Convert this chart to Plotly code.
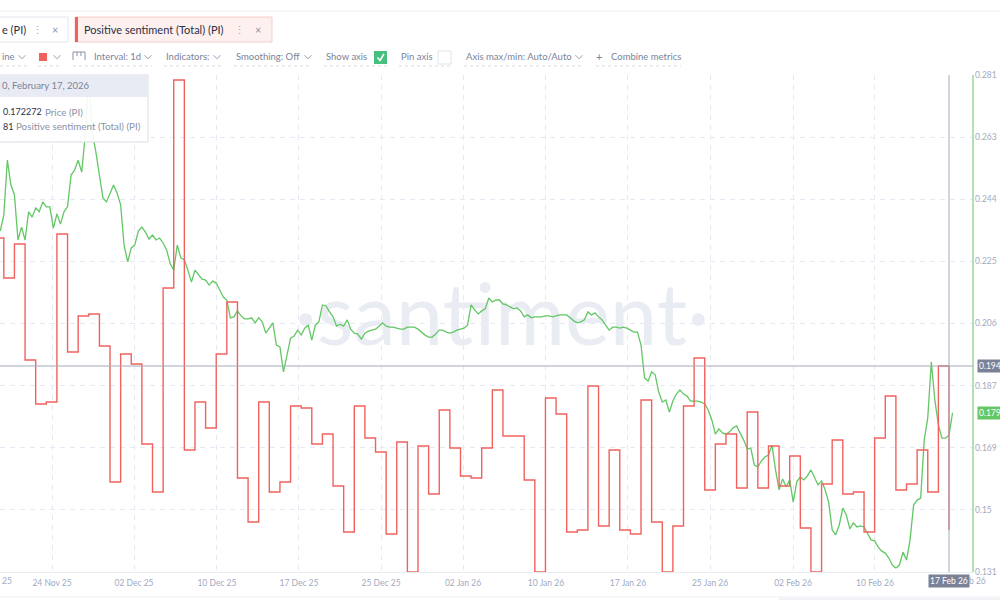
import plotly.graph_objects as go
import pandas as pd

# ---------------- data ----------------
price_start = "2025-11-19 16:00"
price_step = "8h"
price_values = [
    0.2339, 0.2388, 0.2553, 0.2478, 0.2448, 0.2312, 0.2351, 0.2312, 0.2397, 0.2381,
    0.2409, 0.2397, 0.2427, 0.2412, 0.2412, 0.2348, 0.2391, 0.2360, 0.2397, 0.2412,
    0.2508, 0.2523, 0.2553, 0.2517, 0.2629, 0.2810, 0.2635, 0.2578, 0.2508, 0.2439,
    0.2427, 0.2454, 0.2478, 0.2454, 0.2418, 0.2294, 0.2246, 0.2288, 0.2297, 0.2339,
    0.2351, 0.2336, 0.2315, 0.2327, 0.2312, 0.2318, 0.2303, 0.2282, 0.2240, 0.2221,
    0.2297, 0.2258, 0.2252, 0.2221, 0.2185, 0.2221, 0.2206, 0.2194, 0.2191, 0.2176,
    0.2188, 0.2182, 0.2161, 0.2140, 0.2131, 0.2077, 0.2080, 0.2098, 0.2083, 0.2074,
    0.2074, 0.2077, 0.2062, 0.2077, 0.2065, 0.2031, 0.2046, 0.2062, 0.1995, 0.1989,
    0.1914, 0.1965, 0.2016, 0.2022, 0.2040, 0.2025, 0.2046, 0.2055, 0.2010, 0.2055,
    0.2065, 0.2116, 0.2113, 0.2095, 0.2080, 0.2052, 0.2058, 0.2052, 0.2071, 0.2043,
    0.2031, 0.2028, 0.2013, 0.2031, 0.2037, 0.2040, 0.2043, 0.2052, 0.2062, 0.2052,
    0.2049, 0.2049, 0.2046, 0.2043, 0.2043, 0.2049, 0.2049, 0.2049, 0.2043, 0.2034,
    0.2025, 0.2019, 0.2019, 0.2028, 0.2040, 0.2040, 0.2034, 0.2031, 0.2034, 0.2040,
    0.2043, 0.2046, 0.2055, 0.2116, 0.2101, 0.2089, 0.2098, 0.2104, 0.2137, 0.2125,
    0.2131, 0.2131, 0.2119, 0.2116, 0.2110, 0.2104, 0.2107, 0.2098, 0.2080, 0.2086,
    0.2077, 0.2080, 0.2080, 0.2080, 0.2083, 0.2083, 0.2080, 0.2083, 0.2086, 0.2086,
    0.2086, 0.2077, 0.2068, 0.2062, 0.2065, 0.2071, 0.2095, 0.2086, 0.2092, 0.2080,
    0.2071, 0.2055, 0.2040, 0.2049, 0.2049, 0.2046, 0.2049, 0.2046, 0.2040, 0.2034,
    0.2034, 0.1995, 0.1896, 0.1886, 0.1914, 0.1905, 0.1853, 0.1823, 0.1829, 0.1793,
    0.1826, 0.1847, 0.1859, 0.1847, 0.1841, 0.1826, 0.1826, 0.1826, 0.1823, 0.1817,
    0.1799, 0.1769, 0.1726, 0.1742, 0.1730, 0.1726, 0.1733, 0.1745, 0.1751, 0.1730,
    0.1708, 0.1681, 0.1684, 0.1633, 0.1627, 0.1645, 0.1657, 0.1663, 0.1693, 0.1618,
    0.1558, 0.1591, 0.1567, 0.1588, 0.1521, 0.1582, 0.1597, 0.1588, 0.1600, 0.1618,
    0.1594, 0.1573, 0.1585, 0.1558, 0.1521, 0.1437, 0.1422, 0.1452, 0.1503, 0.1482,
    0.1440, 0.1458, 0.1446, 0.1449, 0.1446, 0.1428, 0.1407, 0.1404, 0.1385, 0.1373,
    0.1367, 0.1352, 0.1331, 0.1322, 0.1331, 0.1370, 0.1346, 0.1407, 0.1512, 0.1527,
    0.1533, 0.1708, 0.1775, 0.1944, 0.1829, 0.1754, 0.1714, 0.1714, 0.172272, 0.1790,
]

sentiment_start = "2025-11-19"
sentiment_values = [
    # Nov 19 - Nov 30
    227, 207, 224, 166, 144, 145, 229, 170, 188, 189, 173, 105,
    # Dec
    169, 164, 124, 100, 202, 306, 121, 145, 132, 169, 195, 107, 85, 145, 100, 105,
    143, 142, 124, 129, 103, 80, 143, 127, 120, 79, 125, 60, 123, 99, 141,
    # Jan
    122, 108, 107, 122, 151, 128, 128, 106, 60, 147, 139, 80, 81, 153, 83, 121,
    81, 79, 146, 85, 60, 83, 143, 167, 101, 124, 129, 102, 140, 102, 123,
    # Feb 1 - Feb 17
    103, 118, 82, 60, 104, 126, 99, 100, 80, 127, 148, 101, 104, 121, 100, 163, 81,
]

x_tick_vals = ["2025-11-24 13:00", "2025-12-02 06:15", "2025-12-10 01:40", "2025-12-17 19:00",
               "2025-12-25 12:30", "2026-01-02 05:45", "2026-01-10 01:10", "2026-01-17 18:30",
               "2026-01-25 12:00", "2026-02-02 07:30", "2026-02-10 00:45"]
x_tick_text = ["24 Nov 25", "02 Dec 25", "10 Dec 25", "17 Dec 25", "25 Dec 25", "02 Jan 26",
               "10 Jan 26", "17 Jan 26", "25 Jan 26", "02 Feb 26", "10 Feb 26"]
price_tick_vals = [0.131, 0.14975, 0.1685, 0.18725, 0.206, 0.22475, 0.2435, 0.26225, 0.281]
price_tick_text = ["0.131", "0.15", "0.169", "0.187", "0.206", "0.225", "0.244", "0.263", "0.281"]

hover_date = "2026-02-17"
hover_date_text = "17 Feb 26"
hover_header_text = "0, February 17, 2026"
hover_price_text = "0.172272"
hover_sent_text = "81"
cursor_label = "0.194"
last_label = "0.179"

# ---------------- styles ----------------
GREEN = "#62c764"
RED = "#f0625e"
GRID = "#e6e9f1"
TICK = "#a2aabf"
UI = "#7b8499"
DARK = "#2a3047"
FONT = "Lato"
TS = 8.5  # axis tick font size

price_x = pd.date_range(price_start, periods=len(price_values), freq=price_step)
sent_x = pd.date_range(sentiment_start, periods=len(sentiment_values), freq="D")

ref = pd.Timestamp(hover_date)
ppd = 10.62
x0 = ref - pd.Timedelta(days=949 / ppd)
x1 = ref + pd.Timedelta(days=24 / ppd)


def PX(v):
    return v / 1000.0


def PY(v):
    return 1 - v / 600.0


fig = go.Figure()

# watermark on base (hidden) axis so data lines draw above it
fig.add_trace(go.Scatter(
    x=[x0 + (x1 - x0) * (502 / 973)], y=[0.50], mode="text", text=["·santiment·"],
    textfont=dict(family=FONT, size=85, color="#e9ecf3"), yaxis="y", hoverinfo="skip"))

fig.add_trace(go.Scatter(x=price_x, y=price_values, mode="lines", yaxis="y2",
                         line=dict(color=GREEN, width=1.3), name="Price (PI)"))
fig.add_trace(go.Scatter(x=sent_x, y=sentiment_values, mode="lines", yaxis="y3",
                         line=dict(color=RED, width=1.4, shape="hv"),
                         name="Positive sentiment (Total) (PI)"))

dom = [28 / 600, 525 / 600]
fig.update_layout(
    width=1000, height=600, margin=dict(l=0, r=0, t=0, b=0, autoexpand=False),
    paper_bgcolor="white", plot_bgcolor="white", showlegend=False, hovermode=False,
    font=dict(family=FONT),
    xaxis=dict(type="date", range=[x0, x1], domain=[0, 0.973], tickvals=x_tick_vals,
               ticktext=x_tick_text, showgrid=True, gridcolor=GRID, griddash="5px,5px",
               ticks="", tickfont=dict(size=TS, color=TICK), showline=True,
               linecolor="#e9ecf2", zeroline=False, ticklabelstandoff=3, automargin=False),
    yaxis=dict(domain=dom, range=[0, 1], visible=False, fixedrange=True, automargin=False),
    yaxis2=dict(overlaying="y", side="right", anchor="x", range=[0.131, 0.281],
                tickvals=price_tick_vals, ticktext=price_tick_text, showgrid=True,
                gridcolor=GRID, griddash="5px,5px", showline=False, ticks="",
                tickfont=dict(size=TS, color=TICK), zeroline=False, ticklabelstandoff=1,
                automargin=False),
    yaxis3=dict(overlaying="y", range=[60, 308.5], visible=False, automargin=False),
)

shapes = []
ann = []


def text(t, x, y, size=9.5, color=UI, anchor="left", **kw):
    ann.append(dict(text=t, x=PX(x), y=PY(y), xref="paper", yref="paper", showarrow=False,
                    xanchor=anchor, yanchor="middle", font=dict(family=FONT, size=size, color=color), **kw))


def rect(xa, ya, xb, yb, fill, line=None, lw=1):
    shapes.append(dict(type="rect", xref="paper", yref="paper", x0=PX(xa), x1=PX(xb),
                       y0=PY(ya), y1=PY(yb), fillcolor=fill,
                       line=dict(color=line or fill, width=lw if line else 0), layer="above"))


def hline(xa, xb, y, color, dash="solid", w=1):
    shapes.append(dict(type="line", xref="paper", yref="paper", x0=PX(xa), x1=PX(xb),
                       y0=PY(y), y1=PY(y), line=dict(color=color, width=w, dash=dash), layer="above"))


def chev(x, y, color="#9aa1b3"):
    shapes.append(dict(type="path", xref="paper", yref="paper",
                       path=f"M {PX(x-3.5)},{PY(y-1.8)} L {PX(x)},{PY(y+1.8)} L {PX(x+3.5)},{PY(y-1.8)}",
                       line=dict(color=color, width=1), layer="above"))


# green price axis line on the right edge of the plot area
shapes.append(dict(type="line", xref="paper", yref="paper", x0=0.973, x1=0.973,
                   y0=dom[0], y1=dom[1], line=dict(color=GREEN, width=1), layer="above"))

# top separator
hline(0, 1000, 11, "#eceef3")
# tab 1
rect(-5, 17, 68, 42, "white", "#e3e6ee")
text("e (PI)", 0, 29.5, size=11, color=DARK)
text("⋮", 37, 29.5, size=11, color="#a3aabb", anchor="center")
text("×", 55, 29.5, size=11, color="#8d94a6", anchor="center")
# tab 2
rect(75, 17, 272, 42, "#fdf0ef", "#f6cdc9")
rect(75, 17, 78, 42, RED)
text("Positive sentiment (Total) (PI)", 82, 29.5, size=11, color=DARK)
text("⋮", 239, 29.5, size=11, color="#a3aabb", anchor="center")
text("×", 258, 29.5, size=11, color="#8d94a6", anchor="center")

# toolbar
ty = 57
text("ine", 0, ty)
chev(22, ty)
rect(39, 53, 47, 61, RED)
chev(57, ty)
# ruler icon
shapes.append(dict(type="path", xref="paper", yref="paper",
                   path=(f"M {PX(73)},{PY(60)} L {PX(73)},{PY(52)} L {PX(85)},{PY(52)} L {PX(85)},{PY(60)} "
                         f"M {PX(77)},{PY(52)} L {PX(77)},{PY(56)} M {PX(81)},{PY(52)} L {PX(81)},{PY(56)}"),
                   line=dict(color="#8a91a4", width=1), layer="above"))
text("Interval: 1d", 91.5, ty)
chev(148, ty)
text("Indicators:", 163.5, ty)
chev(217, ty)
text("Smoothing: Off", 233.5, ty)
chev(308, ty)
text("Show axis", 323.5, ty)
rect(374, 51, 387, 64, "#47c07f")
shapes.append(dict(type="path", xref="paper", yref="paper",
                   path=f"M {PX(377.5)},{PY(57.5)} L {PX(380)},{PY(60.5)} L {PX(384)},{PY(54)}",
                   line=dict(color="white", width=1.5), layer="above"))
text("Pin axis", 399, ty)
rect(438, 51, 451, 64, "white", "#e1e4eb")
text("Axis max/min: Auto/Auto", 464, ty)
chev(579, ty)
text("+", 599, ty - 0.5, size=11, anchor="center")
text("Combine metrics", 608.5, ty)
for a, b in [(0, 27), (38, 61), (73, 152), (164, 222), (234, 312), (324, 387), (399, 452), (464, 583), (596, 681)]:
    hline(a, b, 66, "#d6dae4", dash="dot")

# crosshair
shapes.append(dict(type="line", xref="x", yref="paper", x0=hover_date, x1=hover_date,
                   y0=PY(75), y1=PY(572), line=dict(color="#a5aabb", width=1), layer="above"))
shapes.append(dict(type="line", xref="paper", yref="y3", x0=0, x1=0.973,
                   y0=sentiment_values[-2], y1=sentiment_values[-2],
                   line=dict(color="#a5aabb", width=1), layer="above"))

# tooltip
rect(-2, 75, 148, 142, "rgba(255,255,255,0.9)", "#d9dde6")
rect(-1.5, 75.5, 147.5, 97, "#e8ebf3")
text(hover_header_text, 0, 86, size=9.5, color=UI)
text(hover_price_text, 0.5, 112, size=9, color=DARK)
text("Price (PI)", 43, 112, size=9.8, color="#8a92a6")
text(hover_sent_text, 0.5, 126.5, size=9, color=DARK)
text("Positive sentiment (Total) (PI)", 13.5, 126.5, size=9.8, color="#8a92a6")

# bottom chrome
hline(0, 1000, 597, "#eceef3")
rect(779, 598, 1000, 600, "#f1f2f6")

# partially visible edge x labels
text("25", 0, 581, size=TS, color=TICK)
text("b 26", 988, 581, size=TS, color=TICK, anchor="right")

# value labels
ann.append(dict(text=cursor_label, x=PX(976.5), y=sentiment_values[-2], xref="paper", yref="y3",
                showarrow=False, xanchor="left", yanchor="middle", bgcolor="#7b8196",
                borderpad=1, font=dict(family=FONT, size=TS, color="white")))
ann.append(dict(text=last_label, x=PX(976.5), y=price_values[-1], xref="paper", yref="y2",
                showarrow=False, xanchor="left", yanchor="middle", bgcolor=GREEN,
                borderpad=1, font=dict(family=FONT, size=TS, color="white")))
ann.append(dict(text=hover_date_text, x=hover_date, y=PY(581), xref="x", yref="paper",
                showarrow=False, xanchor="center", yanchor="middle", bgcolor="#7b8196",
                borderpad=1, font=dict(family=FONT, size=TS, color="white")))

fig.update_layout(shapes=shapes, annotations=ann)
fig.write_html("out.html", config={"displayModeBar": False},
               post_script="document.body.style.margin='0';document.body.style.padding='0';"
                           "document.body.style.overflow='hidden';")
